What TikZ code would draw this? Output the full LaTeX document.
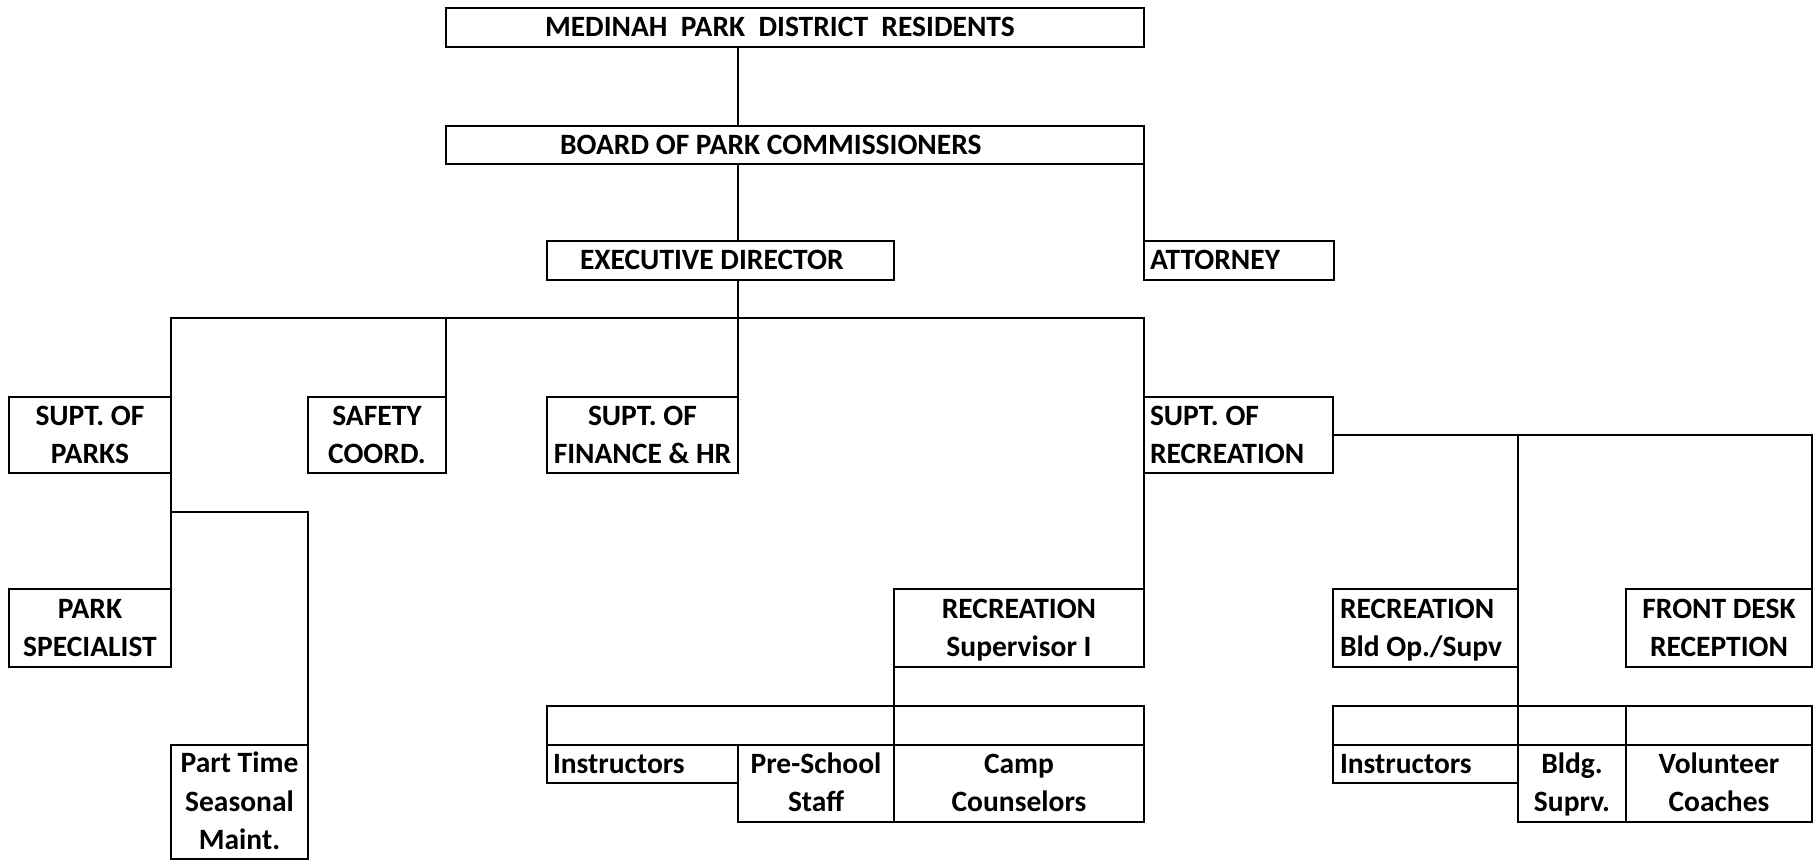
\documentclass[tikz,border=0pt]{standalone}
\usepackage{fontspec}
\setmainfont{Carlito}
\newcommand\C[1]{\vbox{\halign{\hfil##\hfil\cr#1\crcr}}}
\newcommand\Lt[2]{\vbox{\halign{\hbox to #1pt{##\hfil}\cr#2\crcr}}}
\newcommand\bx[7]{\node[orgbox,#6,minimum width={#4pt-#2pt},minimum height={#5pt-#3pt}] (#1) at (#2,#3) {#7};}
\tikzset{
  orgbox/.style={draw, line width=2pt, inner sep=0pt, outer sep=0pt, anchor=north west,
    font=\fontsize{29.5}{38.3}\selectfont\bfseries},
  l1/.style={text height=18.4pt, text depth=0pt},
  l2/.style={text height=56.7pt, text depth=0pt},
  l3/.style={text height=95pt, text depth=0pt},
  conn/.style={line width=2pt}
}
\begin{document}
\begin{tikzpicture}[x=1pt,y=-1pt]
\useasboundingbox (0,0) rectangle (1818,862);
\bx{res}{446}{8}{1144}{47}{l1}{\Lt{500}{MEDINAH\ \ PARK\ \ DISTRICT\ \ RESIDENTS}}
\bx{board}{446}{126}{1144}{164}{l1}{\Lt{470}{BOARD OF PARK COMMISSIONERS}}
\bx{exec}{547}{241}{894}{280}{l1}{\Lt{281}{EXECUTIVE DIRECTOR}}
\bx{att}{1144}{241}{1334}{280}{l1}{\Lt{178}{ATTORNEY}}
\bx{parks}{9}{397}{171}{473}{l2}{\C{SUPT. OF\cr PARKS}}
\bx{safety}{308}{397}{446}{473}{l2}{\C{SAFETY\cr COORD.}}
\bx{fin}{547}{397}{738}{473}{l2}{\C{SUPT. OF\cr FINANCE \& HR}}
\bx{suprec}{1144}{397}{1333}{473}{l2}{\Lt{177}{SUPT. OF\cr RECREATION}}
\bx{spec}{9}{589}{171}{667}{l2}{\C{PARK\cr SPECIALIST}}
\bx{pt}{171}{745}{308}{859}{l3}{\C{Part Time\cr Seasonal\cr Maint.}}
\bx{recsup}{894}{589}{1144}{667}{l2}{\C{RECREATION\cr Supervisor I}}
\bx{recbld}{1333}{589}{1518}{667}{l2}{\Lt{171}{RECREATION\cr Bld Op./Supv}}
\bx{front}{1626}{589}{1812}{667}{l2}{\C{FRONT DESK\cr RECEPTION}}
\bx{e1}{547}{706}{894}{745}{l1}{}
\bx{e2}{894}{706}{1144}{745}{l1}{}
\bx{ins1}{547}{745}{738}{783}{l1}{\Lt{179}{Instructors}}
\bx{pre}{738}{745}{894}{822}{l2}{\C{Pre-School\cr Staff}}
\bx{camp}{894}{745}{1144}{822}{l2}{\C{Camp\cr Counselors}}
\bx{e3}{1333}{706}{1518}{745}{l1}{}
\bx{e4}{1518}{706}{1626}{745}{l1}{}
\bx{e5}{1626}{706}{1812}{745}{l1}{}
\bx{ins2}{1333}{745}{1518}{783}{l1}{\Lt{171}{Instructors}}
\bx{bldg}{1518}{745}{1626}{822}{l2}{\C{Bldg.\cr Suprv.}}
\bx{vol}{1626}{745}{1812}{822}{l2}{\C{Volunteer\cr Coaches}}
\coordinate (spine) at (738,0);
\coordinate (bus) at (0,318);
\coordinate (pbr) at (0,512);
\draw[conn] (res.south -| spine) -- (board.north -| spine);
\draw[conn] (board.south -| spine) -- (exec.north -| spine);
\draw[conn] (board.south east) -- (att.north west);
\draw[conn] (exec.south -| spine) -- (fin.north east);
\draw[conn] (parks.north east) -- (parks.north east |- bus) -- (recsup.north east |- bus) -- (recsup.north east);
\draw[conn] (safety.north east) -- (safety.north east |- bus);
\draw[conn] (parks.south east) -- (spec.north east);
\draw[conn] (parks.south east |- pbr) -- (pt.north east |- pbr) -- (pt.north east);
\draw[conn] (suprec.east) -- (suprec.east -| front.north east) -- (front.north east);
\draw[conn] (suprec.east -| recbld.north east) -- (e4.north west);
\draw[conn] (recsup.south west) -- (e2.north west);
\end{tikzpicture}
\end{document}
